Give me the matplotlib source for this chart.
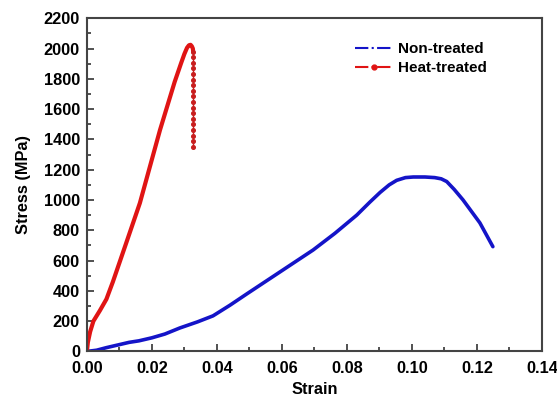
import matplotlib.pyplot as plt
from matplotlib.lines import Line2D
from matplotlib.ticker import MultipleLocator

plt.rcParams['font.family'] = ['Liberation Sans', 'DejaVu Sans']
plt.rcParams['font.weight'] = 'bold'

# Curva sin tratamiento
strain_non = [0.0, 0.003, 0.006, 0.010, 0.013, 0.016, 0.020, 0.024, 0.0286,
              0.0340, 0.0388, 0.0440, 0.0492, 0.0594, 0.0696, 0.0763, 0.083,
              0.0870, 0.0902, 0.0930, 0.0953, 0.0980, 0.1004, 0.1040, 0.1070,
              0.1090, 0.1107, 0.1130, 0.1157, 0.1209, 0.1249]
stress_non = [0, 8, 25, 45, 60, 70, 90, 115, 155,
              195, 235, 305, 380, 525, 670, 780, 900,
              985, 1050, 1100, 1130, 1148, 1152, 1152, 1148,
              1140, 1122, 1070, 1001, 849, 692]

# Curva con tratamiento térmico: subida
strain_heat = [0.0, 0.0003, 0.001, 0.002, 0.004, 0.006, 0.008, 0.010, 0.012,
               0.0163, 0.0225, 0.027, 0.029, 0.0300, 0.0308, 0.0314, 0.0319,
               0.0323, 0.0326, 0.0327]
stress_heat = [0, 60, 130, 200, 270, 345, 460, 585, 710,
               980, 1463, 1780, 1905, 1965, 2005, 2022, 2025,
               2015, 2000, 1980]
# caída final (puntos sueltos)
strain_drop = [0.0327] * 18
stress_drop = [1980, 1943, 1906, 1869, 1832, 1795, 1758, 1721, 1684,
               1647, 1610, 1573, 1536, 1499, 1462, 1425, 1388, 1351]

blue = '#1414c8'
red = '#e01414'

fig = plt.figure(figsize=(5.57, 3.98), dpi=100)
ax = fig.add_axes([0.156, 0.117, 0.817, 0.837])

ax.plot(strain_non, stress_non, color=blue, lw=2.6, solid_capstyle='round',
        solid_joinstyle='round')
ax.plot(strain_heat, stress_heat, color=red, lw=3.0, solid_capstyle='round',
        solid_joinstyle='round')
ax.plot(strain_drop, stress_drop, color='#c81e1e', lw=1.0, marker='o',
        markersize=2.6)

ax.set_xlim(0, 0.14)
ax.set_ylim(0, 2200)
ax.xaxis.set_major_locator(MultipleLocator(0.02))
ax.xaxis.set_minor_locator(MultipleLocator(0.01))
ax.yaxis.set_major_locator(MultipleLocator(200))
ax.yaxis.set_minor_locator(MultipleLocator(100))
ax.xaxis.set_major_formatter(plt.FuncFormatter(lambda v, p: f'{v:.2f}'))

ax.tick_params(which='both', direction='in', width=1.2, colors='#333333',
               labelcolor='black', labelsize=11.8)
ax.tick_params(which='major', length=5)
ax.tick_params(which='minor', length=3)
ax.tick_params(axis='x', pad=7)
ax.tick_params(axis='y', pad=5)
for s in ax.spines.values():
    s.set_linewidth(1.5)
    s.set_color('#444444')

ax.set_xlabel('Strain', fontsize=11.8, fontweight='bold', labelpad=4)
ax.set_ylabel('Stress (MPa)', fontsize=11.8, fontweight='bold', labelpad=9)

handles = [Line2D([], [], color=blue, lw=1.5, ls='-.'),
           Line2D([], [], color=red, lw=1.5, ls='-.', marker='o', markersize=3.5)]
ax.legend(handles, ['Non-treated', 'Heat-treated'], loc='upper left',
          bbox_to_anchor=(0.56, 0.97), frameon=False, fontsize=11,
          handlelength=2.4, handletextpad=0.4, labelspacing=0.35, numpoints=1)

fig.savefig('out.png', dpi=100)
